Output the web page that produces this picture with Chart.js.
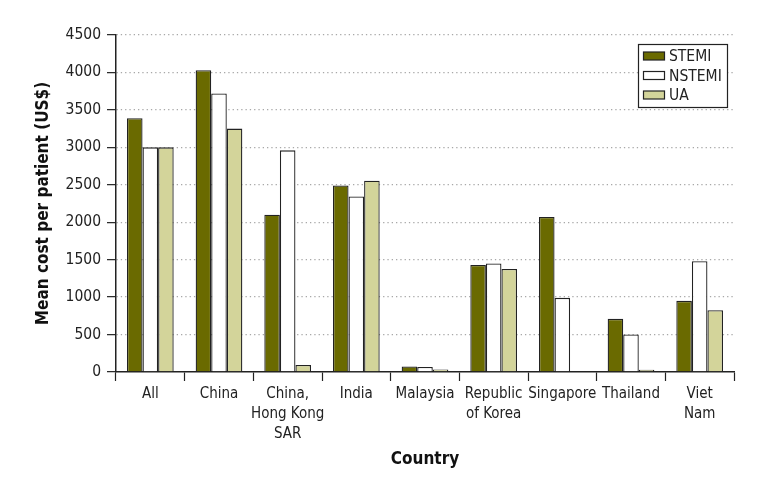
<!DOCTYPE html>
<html>
<head>
<meta charset="utf-8">
<script src="https://cdn.jsdelivr.net/npm/chart.js@4.4.1/dist/chart.umd.min.js"></script>
<style>
  html, body { margin: 0; padding: 0; background: #ffffff; }
  #wrap { width: 771px; height: 492px; position: relative; }
</style>
</head>
<body>
<div id="wrap"><canvas id="c" width="771" height="492"></canvas></div>
<script>
const categories = ['All', 'China', ['China,', 'Hong Kong', 'SAR'], 'India', 'Malaysia', ['Republic', 'of Korea'], 'Singapore', 'Thailand', ['Viet', 'Nam']];
const stemi  = [3390, 4030, 2100, 2490, 75, 1430, 2070, 710, 950];
const nstemi = [3000, 3720, 2960, 2345, 68, 1450, 990, 500, 1480];
const ua     = [3000, 3250, 95, 2555, 35, 1375, null, 30, 825];
const seriesNames = ['STEMI', 'NSTEMI', 'UA'];
const yTicks = [0, 500, 1000, 1500, 2000, 2500, 3000, 3500, 4000, 4500];

const FONT = '"Liberation Sans Narrow", "DejaVu Sans Condensed", "Noto Sans", sans-serif';
const colors = ['#6a6a00', '#ffffff', '#d3d49a'];

const legendPlugin = {
  id: 'boxLegend',
  afterDraw(chart) {
    const ctx = chart.ctx;
    const x0 = 638, y0 = 44, w = 89, h = 63;
    ctx.save();
    ctx.fillStyle = '#ffffff';
    ctx.fillRect(x0, y0, w, h);
    ctx.strokeStyle = '#222';
    ctx.lineWidth = 1.2;
    ctx.strokeRect(x0 + 0.5, y0 + 0.5, w, h);
    ctx.font = '15.5px ' + FONT;
    ctx.textBaseline = 'middle';
    chart.data.datasets.forEach((ds, i) => {
      const cy = y0 + 12 + i * 19.5;
      ctx.fillStyle = ds.backgroundColor;
      ctx.fillRect(643.5, cy - 4, 21, 8);
      ctx.strokeStyle = '#222';
      ctx.lineWidth = 1.2;
      ctx.strokeRect(643.5, cy - 4, 21, 8);
      ctx.fillStyle = '#222';
      ctx.fillText(ds.label, 669, cy + 1);
    });
    ctx.restore();
  }
};

new Chart(document.getElementById('c'), {
  type: 'bar',
  data: {
    labels: categories,
    datasets: [stemi, nstemi, ua].map((d, i) => ({
      label: seriesNames[i],
      data: d,
      backgroundColor: colors[i],
      borderColor: '#222',
      borderWidth: 1.3,
      borderSkipped: 'bottom',
      categoryPercentage: 0.68,
      barPercentage: 1.0
    }))
  },
  options: {
    responsive: false,
    animation: false,
    devicePixelRatio: 1,
    layout: { padding: { left: 0, right: 37, top: 35, bottom: 0 } },
    plugins: {
      legend: { display: false },
      tooltip: { enabled: false }
    },
    scales: {
      x: {
        grid: {
          offset: true,
          drawOnChartArea: false,
          drawTicks: true,
          tickLength: 9,
          tickColor: '#222',
          tickWidth: 1.2
        },
        border: { display: true, color: '#222', width: 1.5 },
        ticks: {
          color: '#222',
          font: { family: FONT, size: 15, lineHeight: 1.33 },
          padding: 3,
          maxRotation: 0,
          autoSkip: false
        },
        title: {
          display: true,
          text: 'Country',
          color: '#111',
          font: { family: FONT, size: 17, weight: 'bold' },
          padding: { top: 4, bottom: 22 }
        },
        afterFit(scale) { scale.height = 120; }
      },
      y: {
        min: 0,
        max: 4500,
        afterBuildTicks(scale) { scale.ticks = yTicks.map(v => ({ value: v })); },
        grid: {
          color: (c) => c.tick && c.tick.value === 0 ? 'rgba(0,0,0,0)' : '#a8a8a8',
          lineWidth: 1.3,
          drawTicks: true,
          tickLength: 9,
          tickColor: '#222',
          tickWidth: 1.2,
          tickBorderDash: []
        },
        border: { display: true, color: '#222', width: 1.5, dash: [1.3, 3] },
        ticks: {
          color: '#222',
          font: { family: FONT, size: 15.5 },
          padding: 6,
          callback: (v) => String(v)
        },
        title: {
          display: true,
          text: 'Mean cost per patient (US$)',
          color: '#111',
          font: { family: FONT, size: 17, weight: 'bold' },
          padding: { top: 33, bottom: 0 }
        },
        afterFit(scale) { scale.width = 116; }
      }
    }
  },
  plugins: [legendPlugin]
});
</script>
</body>
</html>
